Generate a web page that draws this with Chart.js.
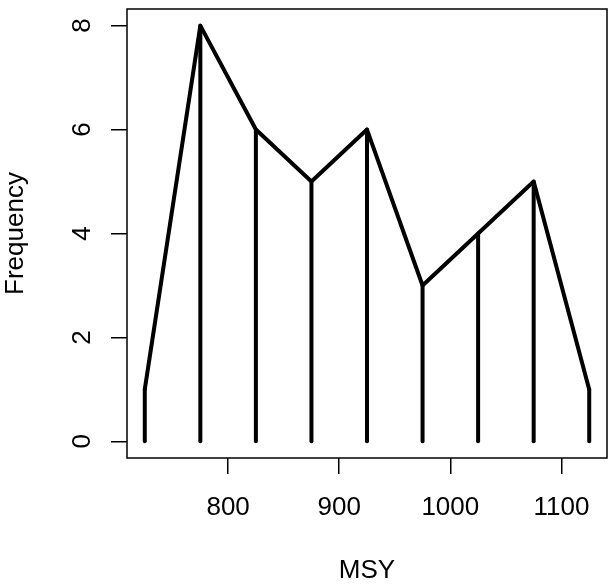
<!DOCTYPE html>
<html>
<head>
<meta charset="utf-8">
<script src="https://cdn.jsdelivr.net/npm/chart.js@4.4.1/dist/chart.umd.min.js"></script>
<style>
  html, body { margin: 0; padding: 0; background: #fff; }
  #wrap { width: 608px; height: 586px; position: relative; }
</style>
</head>
<body>
<div id="wrap"><canvas id="chart"></canvas></div>
<script>
// values
const msy = [725, 775, 825, 875, 925, 975, 1025, 1075, 1125];
const freq = [1, 8, 6, 5, 6, 3, 4, 5, 1];
const xTicks = [800, 900, 1000, 1100];
const yTicks = [0, 2, 4, 6, 8];

const FONT = '"Liberation Sans", Arial, Helvetica, sans-serif';
const ink = '#000000';

// one vertical segment per value (R type = "h")
const spikes = msy.map((x, i) => ({
    type: 'line',
    data: [{ x: x, y: 0 }, { x: x, y: freq[i] }],
    borderColor: ink,
    borderWidth: 4,
    borderCapStyle: 'round',
    pointRadius: 0,
    fill: false
}));

const outline = {
    type: 'line',
    data: msy.map((x, i) => ({ x: x, y: freq[i] })),
    borderColor: ink,
    borderWidth: 4,
    borderCapStyle: 'round',
    borderJoinStyle: 'round',
    tension: 0,
    pointRadius: 0,
    fill: false
};

// frame + rotated y tick labels, like base R
const rFrame = {
    id: 'rFrame',
    afterDraw(chart) {
        const { ctx, chartArea: a, scales } = chart;
        ctx.save();
        ctx.strokeStyle = ink;
        ctx.lineWidth = 1.5;
        ctx.strokeRect(a.left, a.top, a.right - a.left, a.bottom - a.top);

        ctx.fillStyle = ink;
        ctx.font = '26px ' + FONT;
        ctx.textAlign = 'center';
        ctx.textBaseline = 'alphabetic';
        yTicks.forEach(v => {
            const y = scales.y.getPixelForValue(v);
            ctx.save();
            ctx.translate(90, y);
            ctx.rotate(-Math.PI / 2);
            ctx.fillText(String(v), 0, 0);
            ctx.restore();
        });
        ctx.restore();
    }
};

new Chart(document.getElementById('chart'), {
    data: { datasets: [...spikes, outline] },
    options: {
        responsive: true,
        maintainAspectRatio: false,
        animation: false,
        devicePixelRatio: 1,
        layout: { padding: { top: 9, right: 1, left: 0, bottom: 0 } },
        plugins: {
            legend: { display: false },
            tooltip: { enabled: false }
        },
        scales: {
            x: {
                type: 'linear',
                min: 709,
                max: 1141,
                afterBuildTicks: s => { s.ticks = xTicks.map(v => ({ value: v })); },
                afterFit: s => { s.height = 128; s.paddingLeft = 0; s.paddingRight = 0; },
                border: { display: false },
                grid: { drawOnChartArea: false, drawTicks: true, tickLength: 16, color: ink, lineWidth: 1.5 },
                ticks: {
                    color: ink,
                    font: { family: FONT, size: 26 },
                    padding: 18,
                    maxRotation: 0,
                    autoSkip: false,
                    callback: v => String(v)
                },
                title: { display: true, text: 'MSY', color: ink, font: { family: FONT, size: 26 }, padding: { top: 0, bottom: 0 } }
            },
            y: {
                type: 'linear',
                min: -0.32,
                max: 8.32,
                afterBuildTicks: s => { s.ticks = yTicks.map(v => ({ value: v })); },
                afterFit: s => { s.width = 127; s.paddingTop = 0; s.paddingBottom = 0; },
                border: { display: false },
                grid: { drawOnChartArea: false, drawTicks: true, tickLength: 16, color: ink, lineWidth: 1.5 },
                ticks: { display: false },
                title: { display: true, text: 'Frequency', color: ink, font: { family: FONT, size: 26 }, padding: { top: 0, bottom: 0 } }
            }
        }
    },
    plugins: [rFrame]
});
</script>
</body>
</html>
